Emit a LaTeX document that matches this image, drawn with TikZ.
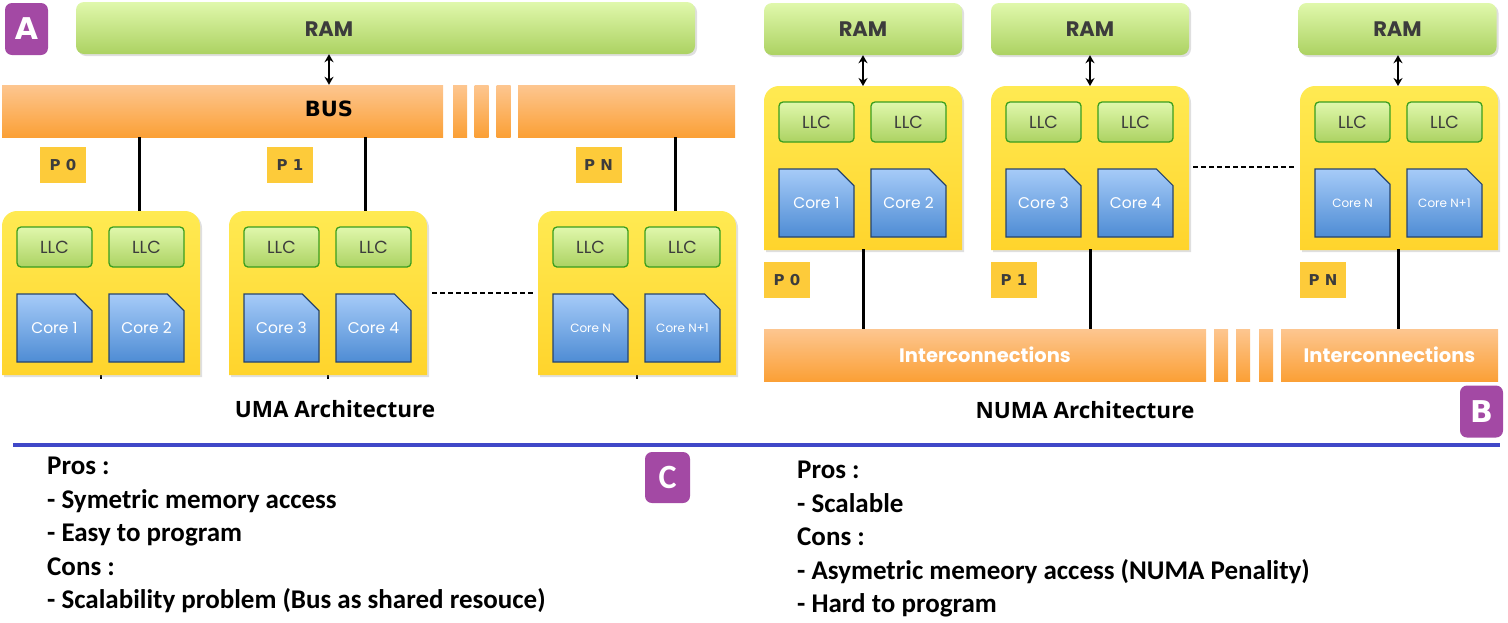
\documentclass[tikz,border=0pt]{standalone}
\usepackage{fontspec}
\setmainfont{Carlito}
\newfontfamily\popfont{Poppins}
\newfontfamily\dejafont{DejaVu Sans}
\newfontfamily\openfont{Open Sans}
\usetikzlibrary{shapes.misc,shadows,arrows.meta}

\definecolor{purp}{RGB}{163,73,164}
\definecolor{ramtop}{RGB}{224,248,172}
\definecolor{rambot}{RGB}{172,210,98}
\definecolor{llcline}{RGB}{58,158,30}
\definecolor{pkgtop}{RGB}{255,234,82}
\definecolor{pkgbot}{RGB}{255,212,44}
\definecolor{coretop}{RGB}{166,203,248}
\definecolor{corebot}{RGB}{78,140,212}
\definecolor{coreline}{RGB}{38,68,110}
\definecolor{bustop}{RGB}{253,198,144}
\definecolor{busbot}{RGB}{251,160,54}
\definecolor{tagfill}{RGB}{253,203,58}
\definecolor{txtgray}{RGB}{60,60,60}
\definecolor{sepblue}{RGB}{64,72,200}

\tikzset{
  softshadow/.style={drop shadow={opacity=0.25, shadow xshift=2pt, shadow yshift=-2pt}},
  badge/.style={fill=purp, rounded corners=7pt, minimum width=43pt, minimum height=52pt,
    inner sep=0pt, text=white},
  rambox/.style={rounded corners=8pt, top color=ramtop, bottom color=rambot, softshadow,
    minimum height=52pt, inner sep=0pt},
  ramtext/.style={text=txtgray, font=\popfont\bfseries\fontsize{21}{24}\selectfont},
  busbox/.style={top color=bustop, bottom color=busbot, minimum height=52pt, inner sep=0pt},
  pkg/.style={top color=pkgtop, bottom color=pkgbot, softshadow},
  llc/.style={rounded corners=4pt, draw=llcline, line width=1.3pt, top color=ramtop,
    bottom color=rambot, minimum width=75pt, minimum height=40pt, inner sep=0pt,
    text=txtgray, font=\popfont\fontsize{17.5}{20}\selectfont},
  core/.style={chamfered rectangle, chamfered rectangle corners=north east,
    chamfered rectangle xsep=11pt, chamfered rectangle ysep=11pt, draw=coreline,
    line width=1.2pt, top color=coretop, bottom color=corebot, minimum width=75pt,
    minimum height=68pt, inner sep=0pt, text=white},
  ptag/.style={fill=tagfill, minimum width=46pt, minimum height=36pt, inner sep=0pt,
    text=txtgray, font=\dejafont\bfseries\fontsize{15}{18}\selectfont},
  link/.style={line width=3pt, black},
  dots/.style={line width=2pt, black, dash pattern=on 5pt off 3pt},
  dbl/.style={line width=2pt, {Stealth[length=8pt,width=9pt]}-{Stealth[length=8pt,width=9pt]}},
  caption/.style={font=\openfont\bfseries\fontsize{22.5}{25}\selectfont},
  icbox/.style={busbox, text=white, font=\popfont\bfseries\fontsize{19.5}{22}\selectfont},
  notes/.style={anchor=north west, align=left, inner sep=0pt,
    font=\bfseries\fontsize{27}{33.5}\selectfont}
}

\begin{document}
\begin{tikzpicture}[x=1pt, y=-1pt]
  \useasboundingbox (0,0) rectangle (1508,622);

  % UMA
  \node[badge, font=\dejafont\bfseries\fontsize{30}{30}\selectfont] (ba) at (26.5,29) {A};
  \node[rambox, minimum width=619pt] (ram) at (385.5,28) {};
  \node[ramtext] (ramlbl) at (329,29) {RAM};
  \node[busbox, minimum width=441pt] (bus) at (222.5,111) {};
  \node[busbox, minimum width=14pt]  (busa) at (460,111) {};
  \node[busbox, minimum width=14pt]  (busb) at (481.5,111) {};
  \node[busbox, minimum width=14pt]  (busc) at (503.5,111) {};
  \node[busbox, minimum width=217pt] (busr) at (626.5,111) {};
  \node[font=\dejafont\bfseries\fontsize{21}{22}\selectfont] (buslbl) at (329,109) {BUS};
  \draw[dbl] (ram.south -| ramlbl) -- (bus.north -| ramlbl);

  \node[ptag] (tag0) at (63,165) {P 0};
  \node[ptag] (tag1) at (290,165) {P 1};
  \node[ptag] (tagn) at (598.5,165) {P N};

  \draw[line width=2.5pt] (101,212) -- (101,379);
  \draw[line width=2.5pt] (328,212) -- (328,379);
  \draw[line width=2.5pt] (637,212) -- (637,379);

  % NUMA
  \node[rambox, minimum width=198pt] (nram0) at (863,29) {};
  \node[rambox, minimum width=198pt] (nram1) at (1090,29) {};
  \node[rambox, minimum width=198pt] (nram2) at (1397.5,29) {};
  \node[ramtext] at (nram0) {RAM};
  \node[ramtext] at (nram1) {RAM};
  \node[ramtext] at (nram2) {RAM};

  % packages
  \foreach \x/\y/\n/\ca/\cb/\fs in {2/211/u0/Core 1/Core 2/15.5, 229/211/u1/Core 3/Core 4/15.5,
      538/211/u2/Core N/Core N+1/12, 764/86/n0/Core 1/Core 2/15.5,
      991/86/n1/Core 3/Core 4/15.5, 1300/86/n2/Core N/Core N+1/12} {
    \path[pkg] (\x,\y+164) -- (\x,\y+15) arc[start angle=180, end angle=270, radius=15]
      -- (\x+183,\y) arc[start angle=270, end angle=360, radius=15] -- (\x+198,\y+164) -- cycle;
    \node[llc] (\n-la) at (\x+52.5,\y+36) {LLC};
    \node[llc] (\n-lb) at (\x+144.5,\y+36) {LLC};
    \node[core, font=\popfont\fontsize{\fs}{\fs}\selectfont] (\n-ca) at (\x+52.5,\y+117) {\ca};
    \node[core, font=\popfont\fontsize{\fs}{\fs}\selectfont] (\n-cb) at (\x+144.5,\y+117) {\cb};
  }

  \coordinate (u0) at (139,211);
  \coordinate (u1) at (365,211);
  \coordinate (u2) at (675,211);
  \draw[link] (bus.south -| u0) -- (u0);
  \draw[link] (bus.south -| u1) -- (u1);
  \draw[link] (busr.south -| u2) -- (u2);
  \coordinate (d0) at (432,293);
  \coordinate (d1) at (535,293);
  \draw[dots] (d0) -- (d1);
  \node[caption] (umacap) at (335,409) {UMA Architecture};

  \node[icbox, minimum width=442pt] (ic) at (985,355) {Interconnections};
  \node[busbox, minimum width=14pt] (ica) at (1221,355) {};
  \node[busbox, minimum width=14pt] (icb) at (1243,355) {};
  \node[busbox, minimum width=14pt] (icc) at (1266,355) {};
  \node[icbox, minimum width=217pt] (icr) at (1389.5,355) {Interconnections};

  \coordinate (n0) at (863,86);
  \coordinate (n1) at (1090,86);
  \coordinate (n2) at (1398,86);
  \draw[dbl] (nram0.south) -- (n0);
  \draw[dbl] (nram1.south) -- (n1);
  \draw[dbl] (n2 |- nram2.south) -- (n2);

  \node[ptag] (ntag0) at (787,280) {P 0};
  \node[ptag] (ntag1) at (1014,280) {P 1};
  \node[ptag] (ntagn) at (1323,280) {P N};

  \coordinate (m0) at (863,249);
  \coordinate (m1) at (1090,249);
  \coordinate (m2) at (1398,249);
  \draw[link] (m0) -- (ic.north -| m0);
  \draw[link] (m1) -- (ic.north -| m1);
  \draw[link] (m2) -- (icr.north -| m2);
  \coordinate (e0) at (1193,167);
  \coordinate (e1) at (1296,167);
  \draw[dots] (e0) -- (e1);
  \node[caption] (numacap) at (1085,410) {NUMA Architecture};
  \node[badge, font=\dejafont\bfseries\fontsize{30}{30}\selectfont] (bb) at (1481.5,411.5) {B};

  \draw[sepblue, line width=4pt] (13,445) -- (1500,445);
  \node[badge, minimum width=45pt, minimum height=51pt, font=\bfseries\fontsize{34}{34}\selectfont] (bc) at (667.5,477.5) {C};

  \node[notes] (umanotes) at (47,457) {Pros :\\- Symetric memory access\\- Easy to program\\Cons :\\- Scalability problem (Bus as shared resouce)};
  \node[notes] (numanotes) at (797,461) {Pros :\\- Scalable\\Cons :\\- Asymetric memeory access (NUMA Penality)\\- Hard to program};
\end{tikzpicture}
\end{document}
